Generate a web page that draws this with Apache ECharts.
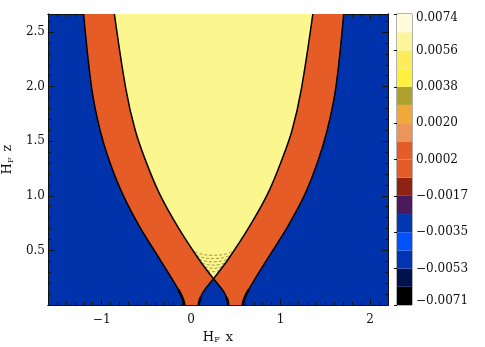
<!DOCTYPE html>
<html lang="en">
<head>
<meta charset="UTF-8">
<title>contour</title>
<style>
  html, body { margin: 0; padding: 0; background: #fff; }
  #chart { width: 485px; height: 347px; }
</style>
</head>
<body>
<div id="chart"></div>
<script src="https://cdn.jsdelivr.net/npm/echarts@6/dist/echarts.min.js"></script>
<script>
  // frame of the plot
  const xMin = -1.6, xMax = 2.2;
  const zMin = 0, zMax = 2.665;
  const xMajor = [-1, 0, 1, 2];
  const zMajor = [0.5, 1.0, 1.5, 2.0, 2.5];

  // contour edges, [x, z], top to bottom
  const outerLeft = [[-1.202, 2.665], [-1.111, 1.98], [-1.018, 1.60], [-0.915, 1.32], [-0.771, 1.025], [-0.578, 0.72], [-0.346, 0.414], [-0.207, 0.23], [-0.143, 0.14], [-0.095, 0.06], [-0.075, 0]];
  const outerRight = [[1.705, 2.665], [1.615, 1.98], [1.52, 1.60], [1.418, 1.32], [1.277, 1.025], [1.08, 0.72], [0.846, 0.414], [0.707, 0.23], [0.643, 0.14], [0.595, 0.06], [0.575, 0]];
  const innerLeft = [[-0.858, 2.665], [-0.73, 1.98], [-0.625, 1.60], [-0.508, 1.32], [-0.357, 1.025], [-0.152, 0.72], [0.09, 0.414], [0.25, 0.24]];
  const innerRight = [[1.36, 2.665], [1.232, 1.98], [1.128, 1.60], [1.009, 1.32], [0.859, 1.025], [0.652, 0.72], [0.41, 0.414], [0.25, 0.24]];
  // legs below the crossing, crossing to bottom
  const legLeft = [[0.25, 0.24], [0.19, 0.18], [0.135, 0.12], [0.105, 0.07], [0.09, 0.03], [0.085, 0]];
  const legRight = [[0.25, 0.24], [0.31, 0.18], [0.365, 0.12], [0.395, 0.07], [0.41, 0.03], [0.415, 0]];

  // faint dotted contours above the crossing
  const dotArcs = [
    [[0.04, 0.49], [0.12, 0.465], [0.25, 0.455], [0.38, 0.465], [0.46, 0.49]],
    [[0.06, 0.455], [0.14, 0.433], [0.25, 0.425], [0.36, 0.433], [0.44, 0.455]],
    [[0.09, 0.42], [0.16, 0.402], [0.25, 0.395], [0.34, 0.402], [0.41, 0.42]],
    [[0.12, 0.385], [0.18, 0.37], [0.25, 0.365], [0.32, 0.37], [0.38, 0.385]],
    [[0.15, 0.352], [0.2, 0.34], [0.25, 0.335], [0.3, 0.34], [0.35, 0.352]],
    [[0.18, 0.318], [0.25, 0.305], [0.32, 0.318]]
  ];

  // colour bar, bottom to top
  const cbColors = ['#000000', '#00124e', '#0034b0', '#0052ff', '#0038b4', '#4a1a5c', '#8e2314', '#e55c26',
                    '#e55c26', '#ec955a', '#f0a83a', '#b0a02e', '#fdf03f', '#fcec5c', '#fcf59a', '#fffbdd'];
  const cbLabels = ['\u22120.0071', '\u22120.0053', '\u22120.0035', '\u22120.0017', '0.0002', '0.0020', '0.0038', '0.0056', '0.0074'];

  const blueFill = '#0033ab';
  const orangeFill = cbColors[7];
  const yellowFill = '#fcf68e';

  const font = 'DejaVu Serif';
  const ink = '#111';
  const SMOOTH = 0.35;

  const xMinor = [], zMinor = [];
  for (let i = -15; i <= 21; i++) if (i % 10 !== 0) xMinor.push(i / 10);
  for (let i = 1; i <= 26; i++) if (i % 5 !== 0) zMinor.push(i / 10);

  const sub = { h: { fontSize: 13, fontFamily: font, color: ink },
                s: { fontSize: 8, fontFamily: font, color: ink, verticalAlign: 'bottom', padding: [6, 2, 0, 0] } };

  function xAx(pos, ticks, len, withLabels) {
    return {
      type: 'value', min: xMin, max: xMax, position: pos, gridIndex: 0,
      axisLine: { show: true, onZero: false, lineStyle: { color: ink, width: 1 } },
      axisTick: { show: true, inside: true, length: len, customValues: ticks, lineStyle: { color: ink } },
      axisLabel: withLabels ? { show: true, customValues: xMajor, margin: 9, fontFamily: font, fontSize: 12, color: ink,
                                formatter: v => String(v).replace('-', '\u2212') } : { show: false },
      splitLine: { show: false }
    };
  }
  function zAx(pos, ticks, len, withLabels) {
    return {
      type: 'value', min: zMin, max: zMax, position: pos, gridIndex: 0,
      axisLine: { show: true, onZero: false, lineStyle: { color: ink, width: 1 } },
      axisTick: { show: true, inside: true, length: len, customValues: ticks, lineStyle: { color: ink } },
      axisLabel: withLabels ? { show: true, customValues: zMajor, margin: 3, fontFamily: font, fontSize: 12, color: ink,
                                formatter: v => v.toFixed(1) } : { show: false },
      splitLine: { show: false }
    };
  }

  const xAxes = [xAx('bottom', xMinor, 3, false), xAx('bottom', xMajor, 6, true), xAx('top', xMinor, 3, false), xAx('top', xMajor, 6, false)];
  xAxes[1].name = '{h|H}{s|F}{h| x}';
  xAxes[1].nameLocation = 'middle';
  xAxes[1].nameGap = 24;
  xAxes[1].nameTextStyle = { rich: sub };
  const zAxes = [zAx('left', zMinor, 3, false), zAx('left', zMajor, 6, true), zAx('right', zMinor, 3, false), zAx('right', zMajor, 6, false)];
  zAxes[1].name = '{h|H}{s|F}{h| z}';
  zAxes[1].nameLocation = 'middle';
  zAxes[1].nameGap = 33;
  zAxes[1].nameTextStyle = { rich: sub };

  xAxes.push({ type: 'value', gridIndex: 1, min: 0, max: 1, show: false });
  zAxes.push({
    type: 'value', gridIndex: 1, min: 0, max: 16, interval: 2, position: 'right',
    axisLine: { show: false },
    axisTick: { show: true, inside: true, length: 3, lineStyle: { color: ink } },
    axisLabel: { show: true, margin: 4, fontFamily: font, fontSize: 12, color: ink, lineHeight: 8,
                 verticalAlignMaxLabel: 'top', verticalAlignMinLabel: 'bottom',
                 formatter: v => cbLabels[v / 2] },
    splitLine: { show: false }
  });

  // polygon from several edge pieces; ends are doubled so corners stay sharp when smoothed
  function chain(pieces) {
    const out = [];
    pieces.forEach(p => {
      out.push(p[0]);
      p.forEach(q => out.push(q));
      out.push(p[p.length - 1]);
    });
    return out;
  }
  const rev = a => a.slice().reverse();

  function renderField(params, api) {
    const px = pts => pts.map(p => api.coord(p));
    const poly = (pts, fill) => ({ type: 'polygon', shape: { points: px(pts), smooth: SMOOTH }, style: { fill: fill } });
    const line = (pts, w, dash, color) => ({
      type: 'polyline', shape: { points: px(pts), smooth: SMOOTH },
      style: { stroke: color || '#000', lineWidth: w, fill: null, lineDash: dash || null }
    });
    const kids = [
      poly(chain([outerLeft, rev(outerRight)]), orangeFill),
      poly(chain([legLeft, rev(legRight)]), blueFill),
      poly(chain([innerLeft, rev(innerRight)]), yellowFill)
    ];
    dotArcs.forEach(a => kids.push(line(a, 1, [3, 2], '#9f9538')));
    [outerLeft, outerRight, innerLeft, innerRight, legLeft, legRight].forEach(e => kids.push(line(e, 1.5)));
    // the edges crowd together close to the floor
    [outerLeft, outerRight, legLeft, legRight].forEach(e => kids.push(line(e.slice(-3), 2.5)));
    return { type: 'group', children: kids };
  }

  const chart = echarts.init(document.getElementById('chart'), null, { renderer: 'canvas' });
  chart.setOption({
    animation: false,
    backgroundColor: '#fff',
    grid: [
      { left: 48, top: 14, width: 340, height: 291, show: true, backgroundColor: blueFill, borderWidth: 0,
        containLabel: false, outerBoundsMode: 'none' },
      { left: 397, top: 14, width: 15, height: 291, show: true, borderColor: '#666', borderWidth: 1,
        containLabel: false, outerBoundsMode: 'none' }
    ],
    xAxis: xAxes,
    yAxis: zAxes,
    series: [
      {
        type: 'custom', xAxisIndex: 0, yAxisIndex: 0, clip: true, silent: true, z: 2,
        data: [[0.25, 1]],
        renderItem: renderField
      },
      {
        type: 'custom', xAxisIndex: 4, yAxisIndex: 4, silent: true,
        data: cbColors.map((c, i) => [0.5, i]),
        renderItem: function (params, api) {
          const i = api.value(1);
          const a = api.coord([0, i]);
          const b = api.coord([1, i + 1]);
          return { type: 'rect', shape: { x: a[0], y: b[1], width: b[0] - a[0], height: a[1] - b[1] }, style: { fill: cbColors[i] } };
        }
      }
    ]
  });
</script>
</body>
</html>
